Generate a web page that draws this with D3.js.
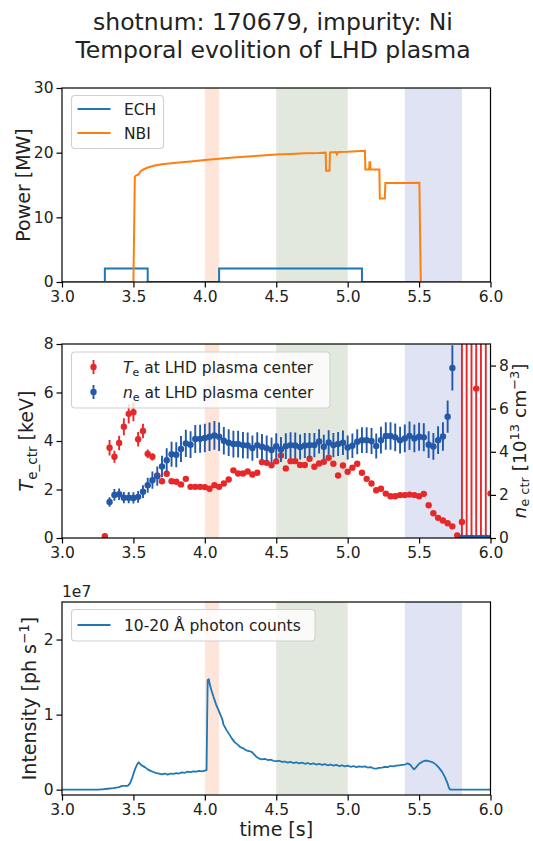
<!DOCTYPE html>
<html>
<head>
<meta charset="utf-8">
<script src="https://cdn.jsdelivr.net/npm/d3@7"></script>
<style>
  body { margin: 0; background: #fff; }
  svg { display: block; }
  text { font-family: "DejaVu Sans", sans-serif; fill: #222; }
</style>
</head>
<body>
<svg id="fig" width="533" height="841"></svg>
<script>
// ---------------- data ----------------
const titleLines = ["shotnum: 170679, impurity: Ni", "Temporal evolition of LHD plasma"];
const xTicks = [3.0, 3.5, 4.0, 4.5, 5.0, 5.5, 6.0];

// highlighted time windows [start, end, colour]
const spanStart = [4.0, 4.5, 5.4];
const spanEnd = [4.1, 5.0, 5.8];
const spanColor = ["#fde5da", "#e3e8df", "#e0e3f3"];

// heating power [MW]
const echTime = [3.0, 3.3, 3.3, 3.6, 3.6, 4.1, 4.1, 5.1, 5.1, 6.0];
const echPower = [0, 0, 2.1, 2.1, 0, 0, 2.1, 2.1, 0, 0];
const nbiTime = [3.0, 3.5, 3.505, 3.51, 3.52, 3.535, 3.55, 3.57, 3.6, 3.65, 3.7, 3.8, 3.9, 4.0, 4.1, 4.2, 4.3, 4.4, 4.5, 4.6, 4.7, 4.8,
  4.846, 4.849, 4.873, 4.876, 4.918, 4.925, 4.932, 5.0, 5.121, 5.124, 5.150, 5.153, 5.157, 5.160, 5.222, 5.225, 5.260, 5.264,
  5.3, 5.4, 5.502, 5.512, 6.0];
const nbiPower = [0, 0, 8.0, 16.3, 16.5, 16.6, 17.1, 17.4, 17.7, 18.0, 18.2, 18.45, 18.65, 18.85, 19.05, 19.25, 19.4, 19.55, 19.7, 19.8, 19.9, 19.95,
  20.0, 17.2, 17.2, 20.05, 20.1, 19.75, 20.1, 20.15, 20.3, 17.4, 17.4, 18.5, 18.5, 17.4, 17.4, 12.9, 12.9, 15.3,
  15.3, 15.3, 15.35, 0, 0];

// Thomson scattering samples
const tsTime = [3.300, 3.333, 3.367, 3.400, 3.433, 3.467, 3.500, 3.533, 3.567, 3.600, 3.633, 3.667, 3.700, 3.733, 3.767, 3.800,
  3.833, 3.867, 3.900, 3.933, 3.967, 4.000, 4.033, 4.067, 4.100, 4.133, 4.167, 4.200, 4.233, 4.267, 4.300, 4.333,
  4.367, 4.400, 4.433, 4.467, 4.500, 4.533, 4.567, 4.600, 4.633, 4.667, 4.700, 4.733, 4.767, 4.800, 4.833, 4.867,
  4.900, 4.933, 4.967, 5.000, 5.033, 5.067, 5.100, 5.133, 5.167, 5.200, 5.233, 5.267, 5.300, 5.333, 5.367, 5.400,
  5.433, 5.467, 5.500, 5.533, 5.567, 5.600, 5.633, 5.667, 5.700, 5.733, 5.767, 5.800, 5.833, 5.867, 5.900, 5.933,
  5.967, 6.000];
const teValue = [0.07, 3.72, 3.35, 3.92, 4.59, 5.12, 5.19, 4.07, 4.41, 3.47, 3.35, 2.58, 2.34, 2.65, 2.34, 2.32,
  2.21, 2.44, 2.11, 2.11, 2.11, 2.10, 2.03, 2.18, 2.11, 2.25, 2.41, 2.79, 2.66, 2.66, 2.74, 2.62,
  2.69, 3.13, 3.10, 3.00, 3.16, 3.40, 2.87, 3.17, 3.17, 3.01, 3.01, 3.27, 2.94, 3.07, 3.14, 3.31,
  3.06, 2.58, 2.99, 2.73, 2.90, 3.06, 2.69, 2.44, 2.25, 1.97, 2.03, 1.83, 1.72, 1.72, 1.77, 1.77,
  1.79, 1.77, 1.72, 1.82, 1.35, 1.02, 0.83, 0.72, 0.61, 0.48, 0.11, 0.66, 0.0, 0.0, 6.16, 0.0,
  0.0, 1.83];
const teError = [0.12, 0.32, 0.25, 0.30, 0.35, 0.40, 0.38, 0.30, 0.30, 0.18, 0.15, 0.06, 0.06, 0.06, 0.06, 0.06,
  0.06, 0.06, 0.06, 0.06, 0.06, 0.06, 0.06, 0.06, 0.06, 0.06, 0.06, 0.06, 0.06, 0.06, 0.06, 0.06,
  0.06, 0.06, 0.06, 0.06, 0.06, 0.06, 0.06, 0.06, 0.06, 0.06, 0.06, 0.06, 0.06, 0.06, 0.06, 0.06,
  0.06, 0.06, 0.06, 0.06, 0.06, 0.06, 0.06, 0.06, 0.06, 0.06, 0.06, 0.06, 0.06, 0.06, 0.06, 0.06,
  0.06, 0.06, 0.06, 0.06, 0.06, 0.06, 0.06, 0.06, 0.06, 0.06, 0.06, 30, 30, 30, 30, 30,
  30, 0.06];
const neValue = [null, 1.67, 2.00, 2.03, 1.87, 1.87, 1.86, 1.91, 2.15, 2.45, 2.68, 2.87, 3.32, 3.61, 3.89, 3.86,
  4.13, 4.39, 4.33, 4.59, 4.60, 4.64, 4.70, 4.76, 4.70, 4.51, 4.42, 4.36, 4.36, 4.31, 4.29, 4.17,
  4.31, 4.23, 4.17, 4.08, 4.26, 4.11, 4.26, 4.31, 4.29, 4.22, 4.29, 4.31, 4.31, 4.48, 4.23, 4.43,
  4.31, 4.36, 4.42, 4.20, 4.28, 4.47, 4.54, 4.54, 4.50, 4.27, 4.54, 4.73, 4.73, 4.67, 4.54, 4.62,
  4.74, 4.62, 4.70, 4.67, 4.33, 4.25, 4.54, 4.71, 5.63, 7.89, null, 0, 0, 0, 0, 0,
  0, 0];
const neError = [0, 0.22, 0.27, 0.27, 0.26, 0.26, 0.26, 0.27, 0.30, 0.35, 0.40, 0.45, 0.50, 0.55, 0.58, 0.58,
  0.60, 0.63, 0.62, 0.65, 0.65, 0.66, 0.66, 0.67, 0.66, 0.64, 0.62, 0.62, 0.62, 0.61, 0.60, 0.59,
  0.60, 0.60, 0.59, 0.58, 0.60, 0.58, 0.60, 0.60, 0.60, 0.58, 0.58, 0.56, 0.56, 0.56, 0.56, 0.57,
  0.56, 0.56, 0.57, 0.56, 0.57, 0.58, 0.60, 0.60, 0.60, 0.58, 0.62, 0.64, 0.64, 0.64, 0.62, 0.64,
  0.66, 0.64, 0.65, 0.65, 0.62, 0.62, 0.64, 0.66, 0.75, 1.05, 0, 0, 0, 0, 0, 0,
  0, 0];

// soft X-ray photon counts, units of 1e7 ph/s
const sxTime = [3.0, 3.25, 3.28, 3.32, 3.36, 3.40, 3.42, 3.46, 3.475, 3.49, 3.50, 3.515, 3.53, 3.537, 3.545, 3.56, 3.58, 3.60,
  3.62, 3.64, 3.66, 3.68, 3.70, 3.72, 3.74, 3.76, 3.78, 3.80, 3.82, 3.84, 3.86, 3.88, 3.90, 3.92, 3.94, 3.96, 3.98, 4.00,
  4.012, 4.016, 4.02, 4.028, 4.035, 4.045, 4.06, 4.08, 4.10, 4.12, 4.125, 4.13, 4.15, 4.17, 4.19, 4.21, 4.23, 4.25, 4.27,
  4.29, 4.31, 4.33, 4.345, 4.36, 4.38, 4.40, 4.42, 4.44, 4.46, 4.48, 4.50, 4.52, 4.54, 4.56, 4.58, 4.60, 4.62, 4.64, 4.66,
  4.68, 4.70, 4.72, 4.74, 4.76, 4.78, 4.80, 4.82, 4.84, 4.86, 4.88, 4.90, 4.92, 4.94, 4.96, 4.98, 5.00, 5.02, 5.04, 5.06,
  5.08, 5.10, 5.12, 5.14, 5.16, 5.18, 5.20, 5.22, 5.24, 5.26, 5.28, 5.30, 5.32, 5.34, 5.36, 5.38, 5.40, 5.42, 5.44, 5.455,
  5.465, 5.48, 5.50, 5.52, 5.54, 5.56, 5.58, 5.60, 5.62, 5.64, 5.66, 5.68, 5.70, 5.71, 5.718, 6.0];
const sxCount = [0, 0, 0.005, 0.012, 0.02, 0.035, 0.05, 0.05, 0.08, 0.15, 0.21, 0.29, 0.35, 0.365, 0.345, 0.32, 0.30, 0.27,
  0.25, 0.235, 0.22, 0.215, 0.205, 0.215, 0.20, 0.215, 0.21, 0.22, 0.215, 0.23, 0.225, 0.24, 0.235, 0.245, 0.24, 0.25, 0.245, 0.255,
  0.26, 0.9, 1.46, 1.47, 1.40, 1.33, 1.24, 1.13, 1.04, 0.95, 0.92, 0.87, 0.80, 0.74, 0.68, 0.63, 0.60, 0.565, 0.55,
  0.525, 0.515, 0.50, 0.47, 0.44, 0.415, 0.405, 0.41, 0.395, 0.40, 0.385, 0.38, 0.385, 0.37, 0.375, 0.36, 0.37, 0.355, 0.365, 0.35,
  0.36, 0.345, 0.355, 0.34, 0.35, 0.335, 0.345, 0.33, 0.34, 0.325, 0.335, 0.32, 0.33, 0.315, 0.325, 0.31, 0.32, 0.305, 0.315, 0.30,
  0.31, 0.305, 0.31, 0.295, 0.30, 0.285, 0.28, 0.29, 0.295, 0.305, 0.30, 0.315, 0.31, 0.32, 0.325, 0.33, 0.335, 0.35, 0.33, 0.29,
  0.27, 0.30, 0.345, 0.37, 0.385, 0.385, 0.375, 0.36, 0.33, 0.29, 0.24, 0.17, 0.08, 0.02, 0, 0];

// ---------------- layout ----------------
const svg = d3.select("#fig");
const X0 = 62, X1 = 490.5;
const panels = [
  { top: 88, bottom: 282 },
  { top: 344, bottom: 538 },
  { top: 602, bottom: 795 }
];
const FT = 15.5, FL = 19, FLEG = 15.5;
const C_BLUE = "#1f77b4", C_ORANGE = "#ff7f0e", C_TE = "#e6282b", C_NE = "#2359a8";

const x = d3.scaleLinear().domain([3, 6]).range([X0, X1]);

// title
svg.append("text").attr("x", 273).attr("y", 30).attr("text-anchor", "middle")
  .style("font-size", "23.5px").text(titleLines[0]);
svg.append("text").attr("x", 273).attr("y", 58).attr("text-anchor", "middle")
  .style("font-size", "23.5px").text(titleLines[1]);

function clipFor(i, p) {
  svg.append("clipPath").attr("id", "clip" + i).append("rect")
    .attr("x", X0).attr("y", p.top).attr("width", X1 - X0).attr("height", p.bottom - p.top);
  return "url(#clip" + i + ")";
}

function drawSpans(g, p) {
  spanStart.forEach((s, i) => {
    g.append("rect").attr("x", x(s)).attr("y", p.top).attr("width", x(spanEnd[i]) - x(s))
      .attr("height", p.bottom - p.top).attr("fill", spanColor[i]);
  });
}

function drawXAxis(p) {
  const ax = svg.append("g").attr("transform", `translate(0,${p.bottom})`)
    .call(d3.axisBottom(x).tickValues(xTicks).tickFormat(d3.format(".1f")).tickSizeOuter(0).tickSize(5.5).tickPadding(3));
  styleAxis(ax);
}
function styleAxis(ax) {
  ax.select(".domain").remove();
  ax.selectAll(".tick line").attr("stroke", "#000").attr("stroke-width", 1.2);
  ax.selectAll(".tick text").style("font-size", FT + "px").style("font-family", "DejaVu Sans").attr("fill", "#222");
}
function drawFrame(p) {
  svg.append("rect").attr("x", X0).attr("y", p.top).attr("width", X1 - X0).attr("height", p.bottom - p.top)
    .attr("fill", "none").attr("stroke", "#000").attr("stroke-width", 1.2);
}
function legendBox(x0, y0, w, h) {
  svg.append("rect").attr("x", x0).attr("y", y0).attr("width", w).attr("height", h).attr("rx", 3.5)
    .attr("fill", "rgba(255,255,255,0.8)").attr("stroke", "#d0d0d0").attr("stroke-width", 1.1);
}
function yLabel(xc, yc, build, size) {
  const t = svg.append("text").attr("transform", `translate(${xc},${yc}) rotate(-90)`)
    .attr("text-anchor", "middle").style("font-size", (size || FL) + "px");
  build(t);
}

// ---------------- panel 1: heating power ----------------
{
  const p = panels[0];
  const y = d3.scaleLinear().domain([0, 30]).range([p.bottom, p.top]);
  const g = svg.append("g").attr("clip-path", clipFor(0, p));
  drawSpans(g, p);
  const line = d3.line().x(d => x(d[0])).y(d => y(d[1]));
  g.append("path").datum(echTime.map((t, i) => [t, echPower[i]])).attr("d", line)
    .attr("fill", "none").attr("stroke", C_BLUE).attr("stroke-width", 2);
  g.append("path").datum(nbiTime.map((t, i) => [t, nbiPower[i]])).attr("d", line)
    .attr("fill", "none").attr("stroke", C_ORANGE).attr("stroke-width", 2);
  drawFrame(p);
  drawXAxis(p);
  const ay = svg.append("g").attr("transform", `translate(${X0},0)`)
    .call(d3.axisLeft(y).tickValues([0, 10, 20, 30]).tickSize(5.5).tickPadding(3));
  styleAxis(ay);
  yLabel(30, (p.top + p.bottom) / 2, t => t.text("Power [MW]"));

  legendBox(71.5, 95.5, 92, 53);
  [["ECH", C_BLUE, 109], ["NBI", C_ORANGE, 133]].forEach(([lab, c, yy]) => {
    svg.append("line").attr("x1", 77.5).attr("x2", 110.5).attr("y1", yy).attr("y2", yy)
      .attr("stroke", c).attr("stroke-width", 2);
    svg.append("text").attr("x", 124).attr("y", yy + 5.5).style("font-size", FLEG + "px").text(lab);
  });
}

// ---------------- panel 2: Te and ne ----------------
{
  const p = panels[1];
  const yT = d3.scaleLinear().domain([0, 8]).range([p.bottom, p.top]);
  const yN = d3.scaleLinear().domain([0, 9]).range([p.bottom, p.top]);
  const g = svg.append("g").attr("clip-path", clipFor(1, p));
  drawSpans(g, p);

  function errorSeries(vals, errs, ys, color) {
    const pts = tsTime.map((t, i) => ({ t, v: vals[i], e: errs[i] })).filter(d => d.v !== null);
    g.append("g").selectAll("line").data(pts).join("line")
      .attr("x1", d => x(d.t)).attr("x2", d => x(d.t))
      .attr("y1", d => ys(d.v - d.e)).attr("y2", d => ys(d.v + d.e))
      .attr("stroke", color).attr("stroke-width", 1.9);
    g.append("g").selectAll("circle").data(pts).join("circle")
      .attr("cx", d => x(d.t)).attr("cy", d => ys(d.v)).attr("r", 3.2).attr("fill", color);
  }
  errorSeries(teValue, teError, yT, C_TE);
  errorSeries(neValue, neError, yN, C_NE);

  drawFrame(p);
  drawXAxis(p);
  const ay = svg.append("g").attr("transform", `translate(${X0},0)`)
    .call(d3.axisLeft(yT).tickValues([0, 2, 4, 6, 8]).tickSize(5.5).tickPadding(3));
  styleAxis(ay);
  const ay2 = svg.append("g").attr("transform", `translate(${X1},0)`)
    .call(d3.axisRight(yN).tickValues([0, 2, 4, 6, 8]).tickSize(5.5).tickPadding(3));
  styleAxis(ay2);

  yLabel(33, (p.top + p.bottom) / 2, t => {
    t.append("tspan").style("font-style", "italic").style("font-family", "DejaVu Sans").text("T");
    t.append("tspan").attr("dy", 4).style("font-size", "13.5px").text("e_ctr");
    t.append("tspan").attr("dy", -4).text(" [keV]");
  });
  yLabel(525.5, (p.top + p.bottom) / 2, t => {
    t.append("tspan").style("font-style", "italic").text("n");
    t.append("tspan").attr("dy", 3).style("font-size", "13px").text("e ctr");
    t.append("tspan").attr("dy", -3).text(" [10");
    t.append("tspan").attr("dy", -7).style("font-size", "13px").text("13");
    t.append("tspan").attr("dy", 7).text(" cm");
    t.append("tspan").attr("dy", -7).style("font-size", "13px").text("−3");
    t.append("tspan").attr("dy", 7).text("]");
  }, 18.5);

  legendBox(71.5, 352, 258.5, 56);
  [[C_TE, "T", 367], [C_NE, "n", 392]].forEach(([c, sym, yy]) => {
    svg.append("line").attr("x1", 93.5).attr("x2", 93.5).attr("y1", yy - 7).attr("y2", yy + 7)
      .attr("stroke", c).attr("stroke-width", 1.9);
    svg.append("circle").attr("cx", 93.5).attr("cy", yy).attr("r", 3.2).attr("fill", c);
    const t = svg.append("text").attr("x", 123).attr("y", yy + 5.5).style("font-size", FLEG + "px");
    t.append("tspan").style("font-style", "italic").text(sym);
    t.append("tspan").attr("dy", 3.5).style("font-size", "11px").text("e");
    t.append("tspan").attr("dy", -3.5).text(" at LHD plasma center");
  });
}

// ---------------- panel 3: photon counts ----------------
{
  const p = panels[2];
  const y = d3.scaleLinear().domain([-0.071, 2.5]).range([p.bottom, p.top]);
  const g = svg.append("g").attr("clip-path", clipFor(2, p));
  drawSpans(g, p);
  g.append("path").datum(sxTime.map((t, i) => [t, sxCount[i]]))
    .attr("d", d3.line().x(d => x(d[0])).y(d => y(d[1])))
    .attr("fill", "none").attr("stroke", C_BLUE).attr("stroke-width", 1.8).attr("stroke-linejoin", "round");
  drawFrame(p);
  drawXAxis(p);
  const ay = svg.append("g").attr("transform", `translate(${X0},0)`)
    .call(d3.axisLeft(y).tickValues([0, 1, 2]).tickFormat(d3.format("d")).tickSize(5.5).tickPadding(3));
  styleAxis(ay);
  svg.append("text").attr("x", 62).attr("y", 597).style("font-size", FT + "px").text("1e7");
  yLabel(36, (p.top + p.bottom) / 2, t => {
    t.append("tspan").text("Intensity [ph s");
    t.append("tspan").attr("dy", -7).style("font-size", "13.5px").text("−1");
    t.append("tspan").attr("dy", 7).text("]");
  });
  svg.append("text").attr("x", (X0 + X1) / 2).attr("y", 836).attr("text-anchor", "middle")
    .style("font-size", FL + "px").text("time [s]");

  legendBox(71.5, 609.5, 243.5, 31.5);
  svg.append("line").attr("x1", 77.5).attr("x2", 110.5).attr("y1", 625).attr("y2", 625)
    .attr("stroke", C_BLUE).attr("stroke-width", 2);
  svg.append("text").attr("x", 124).attr("y", 630.5).style("font-size", FLEG + "px").text("10-20 Å photon counts");
}
</script>
</body>
</html>
